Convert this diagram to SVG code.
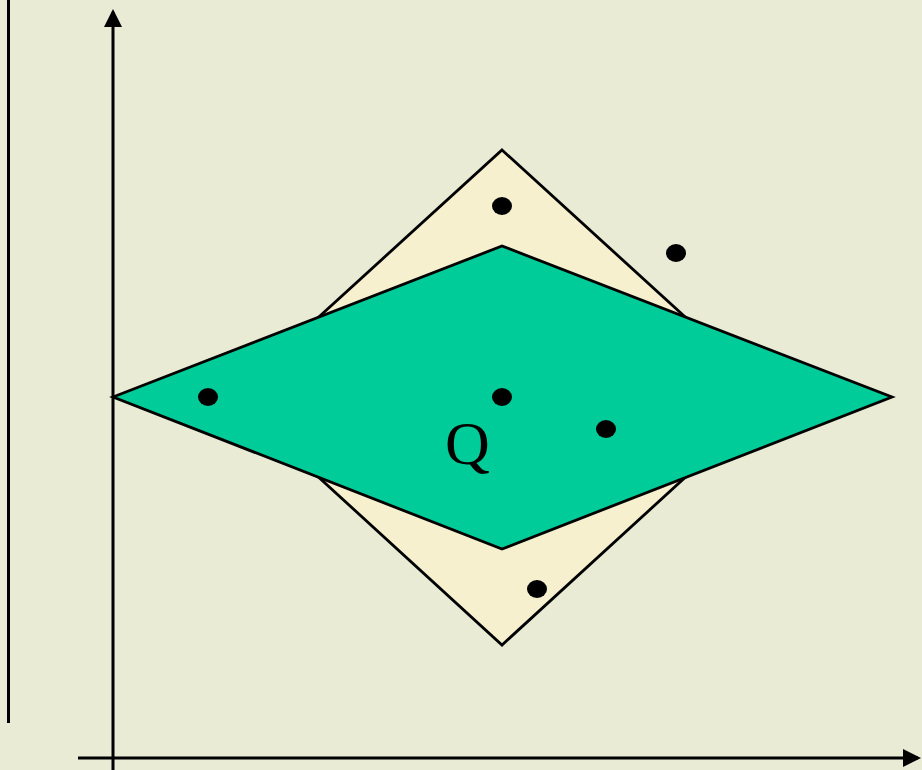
<svg xmlns="http://www.w3.org/2000/svg" width="922" height="770" viewBox="0 0 922 770">
<style>
.ln{stroke:#000;stroke-width:3;fill:none}
.sh{stroke:#000;stroke-width:2.8;stroke-linejoin:miter}
.dot{fill:#000}
</style>
<defs>
<marker id="ah" markerWidth="6" markerHeight="6" refX="5" refY="3" orient="auto" markerUnits="strokeWidth"><path d="M0,0 L6,3 L0,6 Z" fill="#000"/></marker>
</defs>
<rect width="922" height="770" fill="#E9EBD4"/>
<g id="shapes">
<polygon id="square" class="sh" fill="#F6F0CF" points="502,150 773,397 502,645 231,397"/>
<polygon id="rhombus" class="sh" fill="#00CC99" points="113,397 502,246 892,397 502,549"/>
</g>
<g id="connectors">
<line class="ln" x1="8.5" y1="0" x2="8.5" y2="723"/>
<line class="ln" x1="113" y1="770" x2="113" y2="12" marker-end="url(#ah)"/>
<line class="ln" x1="78" y1="758" x2="918" y2="758" marker-end="url(#ah)"/>
</g>
<g id="points">
<ellipse class="dot" cx="502" cy="206" rx="10" ry="9"/>
<ellipse class="dot" cx="676" cy="253" rx="10" ry="9"/>
<ellipse class="dot" cx="208" cy="397" rx="10" ry="9"/>
<ellipse class="dot" cx="502" cy="397" rx="10" ry="9"/>
<ellipse class="dot" cx="606" cy="429" rx="10" ry="9"/>
<ellipse class="dot" cx="537" cy="589" rx="10" ry="9"/>
</g>
<g id="label">
<text x="445" y="464" font-family="Liberation Serif, serif" font-size="62">Q</text>
</g>
</svg>
